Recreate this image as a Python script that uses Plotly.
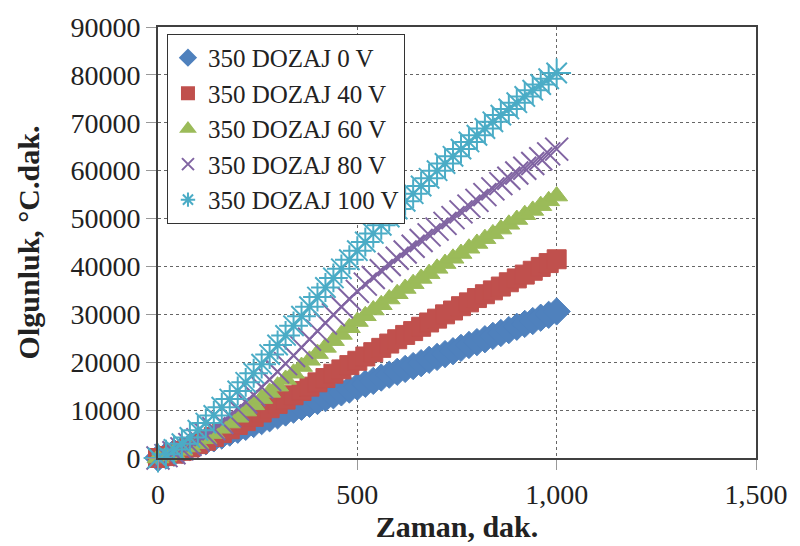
import plotly.graph_objects as go

time_min = list(range(0, 1001, 20))

dozaj_0v = [0, 500, 1100, 1700, 2300, 2900, 3500, 4100, 4700, 5300, 5900, 6500, 7100, 7700,
            8300, 8900, 9500, 10100, 10700, 11300, 11900, 12500, 13100, 13700, 14300, 14900,
            15500, 16100, 16800, 17400, 18000, 18600, 19200, 19800, 20500, 21100, 21700, 22300,
            23000, 23600, 24200, 24800, 25500, 26100, 26700, 27400, 28000, 28600, 29300, 29900, 30600]

dozaj_40v = [0, 400, 900, 1500, 2200, 2900, 3600, 4400, 5200, 6000, 6900, 7700, 8600, 9500,
             10400, 11300, 12200, 13100, 14000, 14900, 15800, 16700, 17600, 18500, 19400, 20300,
             21200, 22100, 23000, 23900, 24800, 25700, 26500, 27400, 28300, 29100, 30000, 30800,
             31700, 32500, 33400, 34200, 35000, 35800, 36700, 37500, 38300, 39100, 39900, 40700, 41500]

dozaj_60v = [0, 400, 1000, 1600, 2300, 3000, 4000, 5100, 6200, 7300, 8500, 9800, 11100, 12400,
             13700, 15000, 16400, 17700, 19100, 20400, 21800, 23100, 24500, 25800, 27200, 28500,
             29700, 30900, 32000, 33200, 34300, 35400, 36400, 37500, 38500, 39600, 40600, 41700,
             42700, 43800, 44800, 45800, 46800, 47800, 48800, 49800, 50800, 51700, 52700, 53700, 54700]

dozaj_80v = [0, 500, 1100, 1900, 2800, 3800, 4900, 6100, 7400, 8800, 10200, 11700, 13200, 14800,
             16400, 18000, 19700, 21400, 23100, 24800, 26500, 28200, 29900, 31600, 33200, 34800,
             36300, 37700, 39100, 40400, 41700, 43000, 44200, 45400, 46600, 47800, 49000, 50200,
             51400, 52600, 53800, 55000, 56200, 57300, 58400, 59500, 60500, 61500, 62500, 63500, 64500]

dozaj_100v = [0, 800, 1800, 3000, 4300, 5800, 7300, 8900, 10600, 12300, 14000, 15800, 17700, 19600,
              21600, 23600, 25600, 27600, 29600, 31600, 33600, 35600, 37600, 39500, 41400, 43300,
              45100, 46900, 48600, 50300, 52000, 53600, 55200, 56800, 58400, 60000, 61500, 63000,
              64500, 66000, 67400, 68800, 70200, 71600, 72900, 74200, 75500, 76800, 78000, 79200, 80400]

names = ["350 DOZAJ 0 V", "350 DOZAJ 40 V", "350 DOZAJ 60 V", "350 DOZAJ 80 V", "350 DOZAJ 100 V"]
series = [dozaj_0v, dozaj_40v, dozaj_60v, dozaj_80v, dozaj_100v]
colors = ["#4F81BD", "#C0504D", "#9BBB59", "#8064A2", "#4BACC6"]
symbols = ["diamond", "square", "triangle-up", "x-thin-open", "asterisk-open"]
sizes = [21, 19, 19, 23, 24]
lwidths = [1, 1, 1, 2, 2]

fig = go.Figure()
for n, s, c, sym, sz, lw in zip(names, series, colors, symbols, sizes, lwidths):
    fig.add_trace(go.Scatter(
        x=time_min, y=s, name=n, mode="markers", cliponaxis=False,
        marker=dict(symbol=sym, size=sz, color=c, line=dict(color=c, width=lw)),
    ))

font_family = "Liberation Serif"
fig.update_layout(
    width=800, height=546,
    margin=dict(l=158, r=43, t=20, b=88),
    paper_bgcolor="white", plot_bgcolor="white",
    font=dict(family=font_family, size=28, color="#222"),
    showlegend=True,
    legend=dict(
        x=0.015, y=0.984, xanchor="left", yanchor="top",
        bgcolor="white", bordercolor="#333", borderwidth=1,
        font=dict(family=font_family, size=25, color="#222"),
        tracegroupgap=0, itemwidth=30, itemsizing="constant",
    ),
    xaxis=dict(
        range=[0, 1500], dtick=500, tick0=0, tickformat=",d",
        showgrid=True, gridcolor="#666", griddash="dot", gridwidth=1,
        showline=True, linecolor="#404040", linewidth=2, mirror=True,
        ticks="outside", ticklen=10, tickcolor="#999", zeroline=False,
        tickfont=dict(size=28),
        title=dict(text="<b>Zaman, dak.</b>", font=dict(size=30), standoff=0),
    ),
    yaxis=dict(
        range=[0, 90000], dtick=10000, tick0=0, tickformat="d",
        showgrid=True, gridcolor="#666", griddash="dot", gridwidth=1,
        showline=True, linecolor="#404040", linewidth=2, mirror=True,
        ticks="outside", ticklen=10, tickcolor="#999", zeroline=False,
        tickfont=dict(size=28),
        title=dict(text="<b>Olgunluk, °C.dak.</b>", font=dict(size=30), standoff=22),
    ),
)

fig.write_html("out.html")
